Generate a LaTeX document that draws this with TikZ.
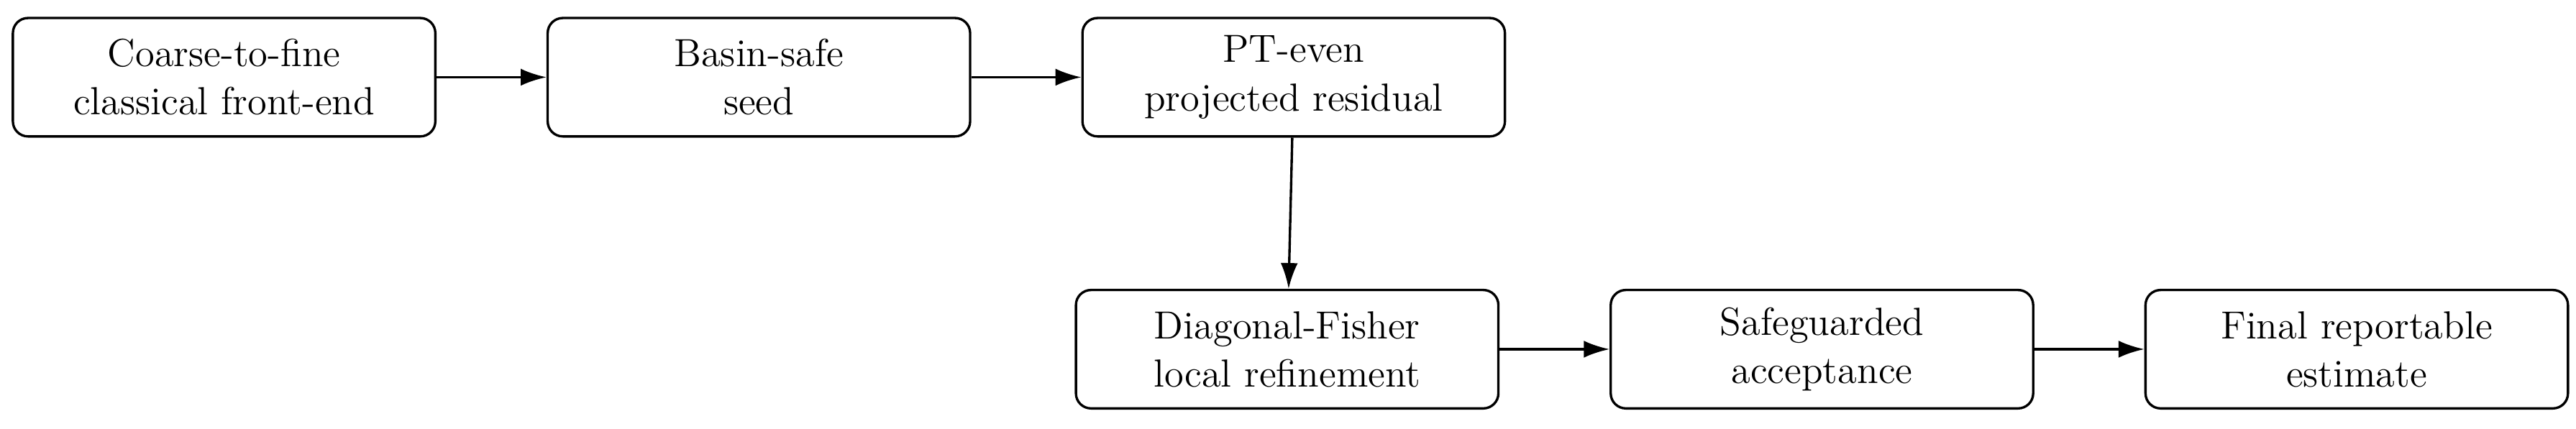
\documentclass[tikz,border=0pt]{standalone}
\usetikzlibrary{positioning,arrows.meta}
\tikzstyle{stage}=[rectangle,rounded corners=5pt,draw=black,thick,minimum width=4.92cm,minimum height=1.38cm,align=center,font=\fontsize{13}{16}\selectfont,inner sep=1pt]
\begin{document}
\begin{tikzpicture}[node distance=1.28cm, >={Latex[length=3mm,width=2mm]}]
  \useasboundingbox (0,0) rectangle (30,5);
  \node[stage] (front) at (2.61,4.10) {Coarse-to-fine\\classical front-end};
  \node[stage, right=of front] (seed) {Basin-safe\\seed};
  \node[stage, right=of seed] (resid) {PT-even\\projected residual};
  \node[stage] (fisher) at (14.99,0.93) {Diagonal-Fisher\\local refinement};
  \node[stage, right=of fisher] (accept) {Safeguarded\\acceptance};
  \node[stage, right=of accept] (final) {Final reportable\\estimate};

  \draw[->,thick] (front) -- (seed);
  \draw[->,thick] (seed) -- (resid);
  \draw[->,thick] (resid) -- (fisher);
  \draw[->,thick] (fisher) -- (accept);
  \draw[->,thick] (accept) -- (final);
\end{tikzpicture}
\end{document}
